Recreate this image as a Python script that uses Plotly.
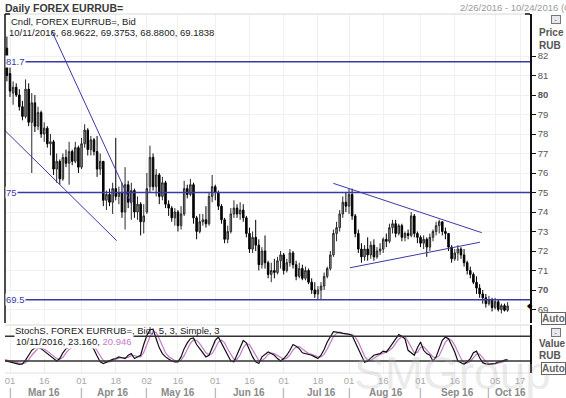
import pandas as pd
import plotly.graph_objects as go
from plotly.subplots import make_subplots

# ---------------- data ----------------
dates = [d.strftime("%Y-%m-%d") for d in pd.bdate_range("2016-02-26", "2016-10-11")]
axis_days = [d.strftime("%Y-%m-%d") for d in pd.bdate_range("2016-02-26", "2016-10-24")]

open_ = [83.5, 82.4, 81.1, 80.1, 80.4, 80.0, 79.4, 78.9, 80.3, 78.6,
         79.6, 78.4, 79.1, 78.0, 78.3, 77.5, 77.6, 76.2, 76.6, 75.7,
         76.8, 76.5, 77.1, 76.6, 77.3, 76.3, 77.5, 78.2, 77.2, 77.7,
         77.1, 76.2, 76.6, 74.6, 74.9, 74.5, 75.2, 74.8, 75.0, 74.0,
         75.4, 74.5, 75.1, 74.0, 74.4, 73.5, 74.0, 75.3, 76.8, 75.3,
         75.9, 74.8, 75.5, 74.4, 74.2, 73.7, 74.0, 73.3, 73.9, 75.2,
         74.9, 75.4, 73.7, 73.0, 73.5, 73.6, 73.4, 74.8, 75.3, 75.0,
         74.3, 73.6, 72.6, 73.0, 73.9, 74.2, 73.9, 74.1, 73.7, 72.9,
         72.1, 72.7, 72.3, 71.3, 72.0, 71.4, 70.8, 71.0, 70.9, 71.5,
         71.8, 71.0, 71.4, 71.9, 71.3, 70.7, 71.1, 70.6, 71.0, 70.4,
         70.0, 69.8, 70.0, 70.2, 70.7, 71.1, 71.8, 72.9, 73.2, 73.9,
         74.5, 74.3, 74.9, 73.8, 72.9, 72.1, 71.7, 72.1, 71.8, 72.3,
         71.7, 72.0, 72.1, 72.6, 72.5, 73.2, 73.4, 72.9, 73.3, 72.7,
         72.9, 72.8, 73.8, 72.9, 72.7, 72.4, 72.6, 72.2, 72.7, 73.0,
         73.3, 73.5, 73.0, 72.9, 72.2, 71.6, 71.9, 72.1, 71.8, 71.4,
         71.0, 70.8, 70.4, 70.1, 69.8, 69.6, 69.3, 69.5, 69.1, 69.4,
         69.0, 69.2, 68.9622]
high = [83.8, 83.0, 81.6, 80.7, 80.6, 80.3, 79.7, 80.8, 80.6, 80.1,
        80.0, 79.4, 79.2, 78.6, 78.4, 78.0, 77.7, 77.0, 76.7, 77.0,
        77.2, 77.6, 77.2, 77.6, 77.4, 77.8, 78.5, 78.3, 77.9, 77.8,
        77.9, 77.0, 76.6, 75.1, 75.2, 75.5, 77.8, 75.3, 75.5, 76.3,
        75.6, 75.5, 75.2, 74.8, 74.5, 74.4, 76.0, 77.4, 77.0, 76.2,
        76.0, 75.8, 75.6, 74.6, 74.3, 74.2, 74.1, 74.3, 75.6, 75.4,
        75.7, 75.5, 73.8, 73.9, 73.9, 74.3, 75.0, 75.9, 75.4, 75.1,
        74.4, 73.7, 73.3, 74.2, 74.6, 74.4, 74.5, 74.4, 73.8, 73.2,
        73.0, 73.6, 72.6, 72.2, 72.8, 71.5, 71.4, 71.6, 71.7, 72.0,
        71.9, 71.6, 72.1, 72.0, 71.5, 71.4, 71.3, 71.2, 71.1, 70.6,
        70.4, 70.2, 70.4, 70.9, 71.2, 72.0, 73.1, 73.5, 74.1, 74.8,
        75.0, 75.2, 75.2, 73.9, 73.1, 72.4, 72.3, 72.7, 72.5, 72.6,
        72.2, 72.4, 72.7, 72.9, 73.4, 73.6, 73.6, 73.4, 73.4, 73.0,
        73.1, 74.0, 73.9, 73.0, 72.8, 72.8, 72.7, 72.9, 73.1, 73.5,
        73.6, 73.5, 73.2, 72.9, 72.3, 72.1, 72.3, 72.2, 72.1, 71.5,
        71.2, 70.9, 70.7, 70.3, 70.0, 69.8, 69.7, 69.6, 69.6, 69.5,
        69.3, 69.3, 69.3753]
low = [82.0, 80.7, 79.9, 79.5, 79.9, 79.2, 78.7, 78.8, 78.4, 76.0,
       78.1, 78.2, 77.8, 77.6, 77.3, 76.9, 75.9, 75.5, 75.4, 75.6,
       76.3, 75.4, 76.4, 76.5, 76.0, 76.2, 77.3, 76.9, 76.9, 76.9,
       75.8, 75.9, 74.3, 74.1, 74.3, 73.9, 74.6, 74.4, 73.7, 73.1,
       74.2, 73.6, 73.7, 73.6, 72.8, 72.9, 73.9, 75.0, 75.1, 74.8,
       74.4, 74.6, 74.2, 73.8, 73.5, 73.3, 73.0, 73.1, 73.8, 74.7,
       74.8, 73.4, 72.6, 72.9, 73.3, 73.2, 73.3, 74.5, 74.6, 74.1,
       73.4, 72.4, 72.4, 72.9, 73.7, 73.7, 73.6, 73.5, 72.7, 71.9,
       71.9, 72.0, 71.0, 71.1, 71.1, 70.6, 70.4, 70.6, 70.8, 71.1,
       70.8, 70.9, 71.2, 71.1, 70.5, 70.6, 70.5, 70.5, 70.3, 69.8,
       69.6, 69.5, 69.5, 70.0, 70.6, 71.0, 71.7, 72.5, 73.0, 73.7,
       74.0, 73.9, 73.6, 72.7, 71.9, 71.4, 71.5, 71.5, 71.6, 71.5,
       71.6, 71.8, 71.9, 72.2, 72.4, 72.9, 72.7, 72.8, 72.5, 72.5,
       72.6, 72.7, 72.7, 72.4, 72.2, 72.1, 71.7, 72.0, 72.5, 72.8,
       72.9, 72.8, 72.6, 72.0, 71.4, 71.5, 71.5, 71.6, 71.2, 70.8,
       70.6, 70.3, 69.8, 69.6, 69.3, 69.1, 69.2, 68.9, 69.0, 68.9,
       68.8, 68.9, 68.88]
close = [82.3, 81.0, 80.2, 80.4, 80.0, 79.4, 78.9, 80.3, 78.6, 79.6,
         78.4, 79.1, 78.0, 78.3, 77.5, 77.6, 76.2, 76.6, 75.7, 76.8,
         76.5, 77.1, 76.6, 77.3, 76.3, 77.5, 78.2, 77.2, 77.7, 77.1,
         76.2, 76.6, 74.6, 74.9, 74.5, 75.2, 74.8, 75.0, 74.0, 75.4,
         74.5, 75.1, 74.0, 74.4, 73.5, 73.8, 75.2, 76.8, 75.3, 75.9,
         74.8, 75.5, 74.4, 74.2, 73.7, 74.0, 73.3, 73.9, 75.2, 74.9,
         75.4, 73.7, 73.0, 73.5, 73.6, 73.4, 74.8, 75.3, 75.0, 74.3,
         73.6, 72.6, 73.0, 73.9, 74.2, 73.9, 74.1, 73.7, 72.9, 72.1,
         72.7, 72.3, 71.3, 72.0, 71.4, 70.8, 71.0, 70.9, 71.5, 71.8,
         71.0, 71.4, 71.9, 71.3, 70.7, 71.1, 70.6, 71.0, 70.4, 70.0,
         69.8, 70.0, 70.2, 70.7, 71.1, 71.8, 72.9, 73.2, 73.9, 74.5,
         74.3, 74.9, 73.8, 72.9, 72.1, 71.7, 72.1, 71.8, 72.3, 71.7,
         72.0, 72.1, 72.6, 72.5, 73.2, 73.4, 72.9, 73.3, 72.7, 72.9,
         72.8, 73.8, 72.9, 72.7, 72.4, 72.6, 72.2, 72.7, 73.0, 73.3,
         73.5, 73.0, 72.9, 72.2, 71.6, 71.9, 72.1, 71.8, 71.4, 71.0,
         70.8, 70.4, 70.1, 69.8, 69.6, 69.3, 69.5, 69.1, 69.4, 69.0,
         69.2, 68.96, 69.1838]

stoch_k = [22, 20, 18, 17, 15, 12, 13, 22, 34, 46,
           52, 54, 50, 44, 38, 32, 25, 20, 26, 40,
           50, 54, 58, 62, 66, 68, 70, 66, 58, 48,
           32, 18, 14, 18, 22, 24, 26, 30, 28, 26,
           34, 38, 26, 30, 34, 60, 82, 96, 97, 74,
           52, 38, 30, 25, 20, 18, 18, 30, 50, 64,
           74, 76, 60, 50, 40, 30, 34, 50, 70, 78,
           64, 50, 34, 20, 18, 34, 52, 70, 64, 46,
           30, 18, 14, 30, 36, 42, 38, 34, 26, 20,
           26, 34, 46, 60, 56, 50, 40, 38, 36, 34,
           30, 26, 34, 48, 66, 80, 91, 90, 88, 87,
           86, 85, 82, 66, 50, 30, 17, 20, 26, 34,
           36, 38, 44, 42, 52, 62, 74, 84, 80, 74,
           46, 40, 34, 52, 66, 46, 38, 34, 20, 30,
           50, 70, 78, 74, 58, 42, 20, 15, 12, 18,
           26, 40, 44, 28, 16, 13, 12, 13, 14, 18,
           19, 22, 23.160]
stoch_d = [24, 22, 20, 18, 17, 15, 13, 16, 23, 34,
           44, 51, 52, 49, 44, 38, 32, 26, 24, 29,
           39, 48, 54, 58, 62, 65, 68, 68, 65, 57,
           46, 33, 21, 17, 18, 21, 24, 27, 28, 28,
           29, 33, 33, 31, 30, 41, 59, 79, 92, 89,
           74, 55, 40, 31, 25, 21, 19, 22, 33, 48,
           63, 71, 70, 62, 50, 40, 35, 38, 51, 66,
           71, 64, 49, 35, 24, 24, 35, 52, 62, 60,
           47, 31, 21, 21, 27, 36, 39, 38, 33, 27,
           24, 27, 35, 47, 54, 55, 49, 43, 38, 36,
           33, 30, 30, 36, 49, 65, 79, 87, 90, 88,
           87, 86, 84, 78, 66, 49, 32, 22, 21, 27,
           32, 36, 39, 41, 46, 52, 63, 73, 79, 79,
           67, 53, 40, 41, 53, 55, 47, 37, 30, 28,
           33, 50, 66, 74, 70, 58, 40, 26, 16, 15,
           19, 28, 37, 37, 29, 19, 14, 13, 13, 15,
           17, 20, 20.946]

level_lines = [81.7, 75.0, 69.5]
level_labels = ["81.7", "75", "69.5"]
# trend lines: (start index, start price, end index, end price)
trend_lines = [(15.4, 83.30, 41.2, 74.36),
               (-0.15, 78.26, 36.3, 72.53),
               (105.96, 75.47, 153.7, 72.94),
               (111.3, 71.14, 153.1, 72.45)]

tick_dates = ["2016-03-01", "2016-03-16", "2016-04-01", "2016-04-18", "2016-05-02",
              "2016-05-16", "2016-06-01", "2016-06-16", "2016-07-01", "2016-07-18",
              "2016-08-01", "2016-08-16", "2016-09-01", "2016-09-16", "2016-10-05",
              "2016-10-17"]
tick_text = [d[-2:] for d in tick_dates]
month_starts = ["2016-03-01", "2016-04-01", "2016-05-02", "2016-06-01",
                "2016-07-01", "2016-08-01", "2016-09-01", "2016-10-03"]
month_label_dates = ["2016-03-16", "2016-04-15", "2016-05-16", "2016-06-16",
                     "2016-07-19", "2016-08-17", "2016-09-19", "2016-10-12"]
month_labels = ["Mar 16", "Apr 16", "May 16", "Jun 16", "Jul 16", "Aug 16", "Sep 16", "Oct 16"]
price_ticks = list(range(69, 83))

# ---------------- layout geometry ----------------
W, H = 566, 398
PL, PR, PT, PB = 5, 530, 14, 373
MAIN_BOTTOM = 323
STOCH_TOP = 325


def px(x):
    return (x - PL) / (PR - PL)


def py(y):
    return (PB - y) / (PB - PT)


BLUE = "#3a3aa6"
FONT = "Liberation Sans, Arial, sans-serif"

fig = make_subplots(rows=2, cols=1, shared_xaxes=True)

fig.add_trace(go.Candlestick(
    x=dates, open=open_, high=high, low=low, close=close,
    increasing=dict(line=dict(color="#2a2a2a", width=1), fillcolor="#9a9a9a"),
    decreasing=dict(line=dict(color="#000000", width=1), fillcolor="#000000"),
    whiskerwidth=0, showlegend=False, hoverinfo="skip"), row=1, col=1)

fig.add_trace(go.Scatter(x=dates, y=stoch_d, mode="lines",
                         line=dict(color="#c47ac8", width=1.2), showlegend=False,
                         hoverinfo="skip"), row=2, col=1)
fig.add_trace(go.Scatter(x=dates, y=stoch_k, mode="lines",
                         line=dict(color="#111111", width=1.2), showlegend=False,
                         hoverinfo="skip"), row=2, col=1)

shapes = []
for lv in level_lines:
    shapes.append(dict(type="line", xref="paper", yref="y", x0=0, x1=1, y0=lv, y1=lv,
                       line=dict(color=BLUE, width=1.5)))
for (x0, y0, x1, y1) in trend_lines:
    shapes.append(dict(type="line", xref="x", yref="y", x0=x0, y0=y0, x1=x1, y1=y1,
                       line=dict(color=BLUE, width=1)))
for lv in (20, 80):
    shapes.append(dict(type="line", xref="paper", yref="y2", x0=0, x1=1, y0=lv, y1=lv,
                       line=dict(color="#333333", width=1.5)))
# panel frames
shapes.append(dict(type="line", xref="paper", yref="paper", x0=0, x1=1, y0=1, y1=1,
                   line=dict(color="#d8d8d8", width=1)))
shapes.append(dict(type="line", xref="paper", yref="paper", x0=0, x1=0, y0=py(MAIN_BOTTOM), y1=1,
                   line=dict(color="#111111", width=1.5)))
shapes.append(dict(type="line", xref="paper", yref="paper", x0=0, x1=px(10), y0=1, y1=1,
                   line=dict(color="#111111", width=1.5)))
shapes.append(dict(type="line", xref="paper", yref="paper", x0=px(525), x1=1, y0=1, y1=1,
                   line=dict(color="#111111", width=1.5)))
shapes.append(dict(type="line", xref="paper", yref="paper", x0=0, x1=1,
                   y0=py(STOCH_TOP), y1=py(STOCH_TOP), line=dict(color="#d8d8d8", width=1)))
shapes.append(dict(type="line", xref="paper", yref="paper", x0=0, x1=1, y0=0, y1=0,
                   line=dict(color="#e0e0e0", width=1)))

ann = []


def text(x, y, s, size=9.5, color="#222", anchor="left", bold=False, bg=None, **kw):
    d = dict(xref="paper", yref="paper", x=px(x), y=py(y), text=("<b>%s</b>" % s) if bold else s,
             showarrow=False, xanchor=anchor, yanchor="middle",
             font=dict(family=FONT, size=size, color=color))
    if bg:
        d["bgcolor"] = bg
    d.update(kw)
    ann.append(d)


# watermark
text(452, 373, "SMGroup", size=46, color="rgba(185,185,185,0.30)", anchor="center")

text(3, 8, "Daily FOREX EURRUB=", size=10.5, color="#3a3a3a", bold=True)
text(458, 7, "2/26/2016 - 10/24/2016 (GMT)", size=9.5, color="#9a9a9a")
text(9, 21, "Cndl, FOREX EURRUB=, Bid", size=9.5, color="#1a1a1a")
text(7, 32, "10/11/2016, 68.9622, 69.3753, 68.8800, 69.1838", size=9.5, color="#1a1a1a")
text(537, 33, "Price", size=10, color="#555", bold=True)
text(537, 45, "RUB", size=10, color="#555", bold=True)
text(537, 343, "Value", size=10, color="#555", bold=True)
text(537, 355, "RUB", size=10, color="#555", bold=True)
text(541, 318, "Auto", size=10, color="#666", bold=True, bg="white",
     bordercolor="#666", borderwidth=1, borderpad=0)
text(541, 368, "Auto", size=10, color="#666", bold=True, bg="white",
     bordercolor="#666", borderwidth=1, borderpad=0)
for yy in (19, 332):
    text(556, yy, "-", size=7, color="#555", anchor="center", bg="#e8e8ee",
         bordercolor="#777", borderwidth=1, borderpad=0, width=8, height=7)
text(13, 330, "StochS, FOREX EURRUB=, Bid,  5, 3, Simple, 3", size=9.5, color="#1a1a1a")
text(14, 341, "10/11/2016, 23.160, <span style='color:#c47ac8'>20.946</span>",
     size=9.5, color="#1a1a1a", bg="white")

for lv, lab in zip(level_lines, level_labels):
    ann.append(dict(xref="paper", yref="y", x=0, y=lv, text=lab, showarrow=False,
                    xanchor="left", yanchor="middle", bgcolor="white", borderpad=0,
                    font=dict(family=FONT, size=9.5, color=BLUE)))
ann.append(dict(xref="paper", yref="y", x=1, y=close[-1], text="◆", showarrow=False,
                xanchor="center", yanchor="middle", font=dict(size=7, color="#000")))

for d in month_starts:
    ann.append(dict(xref="x2", yref="paper", x=d, y=py(392), text="|", showarrow=False,
                    xanchor="center", yanchor="middle",
                    font=dict(family=FONT, size=10, color="#9a9a9a")))
for d, lab in zip(month_label_dates, month_labels):
    ann.append(dict(xref="x2", yref="paper", x=d, y=py(392), text="<b>%s</b>" % lab,
                    showarrow=False, xanchor="center", yanchor="middle",
                    font=dict(family=FONT, size=10, color="#8a8a8a")))

price_text = [("<b>%d</b>" % v) if v in (70, 80) else str(v) for v in price_ticks]

xcommon = dict(type="category", categoryorder="array", categoryarray=axis_days,
               range=[0.39, 169.2], tickmode="array", tickvals=tick_dates,
               showgrid=True, gridcolor="#f0f0f0", gridwidth=1, zeroline=False,
               showline=False, ticks="", rangeslider=dict(visible=False), fixedrange=True)

fig.update_layout(
    width=W, height=H, paper_bgcolor="white", plot_bgcolor="white",
    margin=dict(l=PL, r=W - PR, t=PT, b=H - PB),
    font=dict(family=FONT, size=9.5, color="#444"),
    shapes=shapes, annotations=ann, showlegend=False,
    xaxis=dict(xcommon, domain=[0, 1], showticklabels=False, anchor="y"),
    xaxis2=dict(xcommon, domain=[0, 1], showticklabels=True, ticktext=tick_text, anchor="y2",
                tickfont=dict(family=FONT, size=9.5, color="#a8a8a8")),
    yaxis=dict(domain=[py(MAIN_BOTTOM), 1], range=[68.308, 84.154], side="right",
               tickmode="array", tickvals=price_ticks, ticktext=price_text,
               ticks="outside", ticklen=4, tickcolor="#111", showline=True,
               linecolor="#111", linewidth=1.5, showgrid=True, gridcolor="#f0f0f0",
               zeroline=False, tickfont=dict(family=FONT, size=9.5, color="#555"),
               fixedrange=True),
    yaxis2=dict(domain=[0, py(STOCH_TOP)], range=[-9.1, 107.4], side="right",
                showticklabels=False, ticks="", showline=True, linecolor="#111",
                linewidth=1.5, showgrid=False, zeroline=False, fixedrange=True),
)

fig.write_html("out.html", config=dict(displayModeBar=False),
               post_script="document.body.style.margin='0';document.body.style.overflow='hidden';")
